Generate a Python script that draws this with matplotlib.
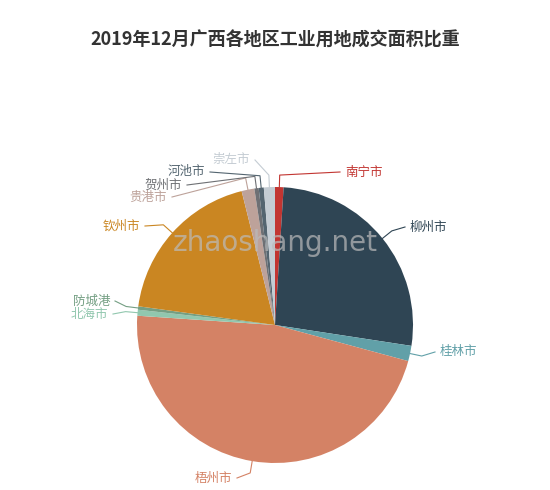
import numpy as np
import matplotlib.pyplot as plt

plt.rcParams['font.family'] = ['Noto Sans CJK SC', 'DejaVu Sans']

cities = ['南宁市', '柳州市', '桂林市', '梧州市', '北海市', '防城港',
          '钦州市', '贵港市', '贺州市', '河池市', '崇左市']
shares = [1.0, 26.5, 1.8, 47.0, 0.7, 0.4, 19.0, 1.5, 0.5, 0.6, 1.3]
colors = ['#c23531', '#2f4554', '#61a0a8', '#d48265', '#91c7ae', '#749f83',
          '#ca8622', '#bda29a', '#6e7074', '#546570', '#c4ccd3']

# label anchor positions in pixel coords (x, y from top), side
label_pos = [(345, 172, 'l'), (410, 227, 'l'), (440, 352, 'l'), (232, 478, 'r'),
             (108, 314, 'r'), (110, 301, 'r'), (140, 226, 'r'), (167, 197, 'r'),
             (182, 185, 'r'), (205, 172, 'r'), (250, 160, 'r')]

W, H = 550, 490
cx, cy, R = 275, H - 325, 138

fig = plt.figure(figsize=(5.5, 4.9), dpi=100)
ax = fig.add_axes([0, 0, 1, 1])

wedges, _ = ax.pie(shares, colors=colors, startangle=90, counterclock=False,
                   center=(cx, cy), radius=R, frame=True,
                   wedgeprops=dict(edgecolor='none'))
ax.set_xlim(0, W)
ax.set_ylim(0, H)
ax.set_aspect('equal')
ax.axis('off')

for w, name, col, (tx, ty, side) in zip(wedges, cities, colors, label_pos):
    a = np.deg2rad((w.theta1 + w.theta2) / 2)
    ex, ey = cx + R * np.cos(a), cy + R * np.sin(a)
    mx, my = cx + (R + 12) * np.cos(a), cy + (R + 12) * np.sin(a)
    ty2 = H - ty
    end_x = tx - 5 if side == 'l' else tx + 5
    ax.plot([ex, mx, end_x], [ey, my, ty2], color=col, lw=0.8)
    ax.text(tx, ty2, name, color=col, fontsize=9, va='center',
            ha='left' if side == 'l' else 'right')

ax.text(275, H - 243, 'zhaoshang.net', fontsize=20, color='#bbbbbb', alpha=0.7,
        ha='center', va='center', family='DejaVu Sans')
fig.text(0.5, 1 - 40 / H, '2019年12月广西各地区工业用地成交面积比重',
         ha='center', va='center', fontsize=13, fontweight='bold', color='#333333')

fig.savefig('out.png', dpi=100)
